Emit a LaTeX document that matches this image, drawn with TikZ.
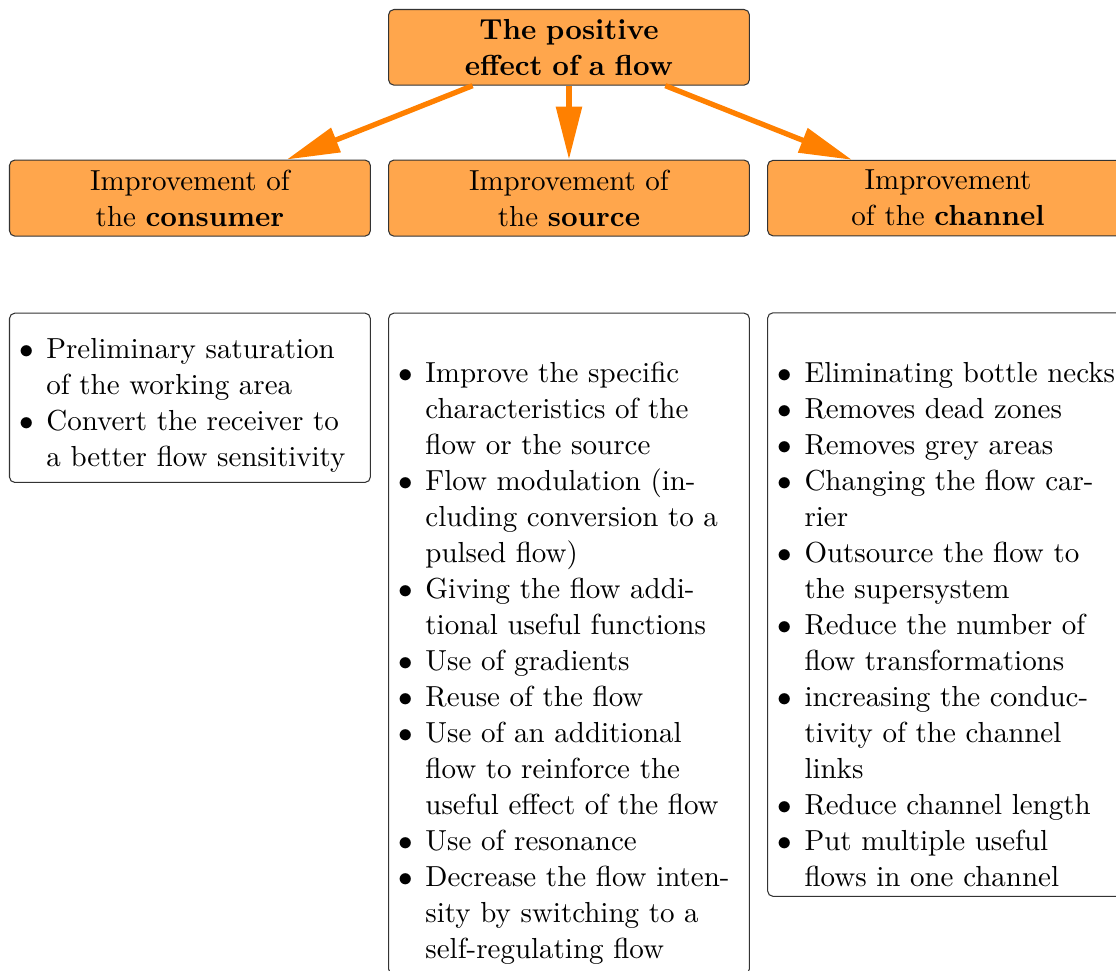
\documentclass[11pt,tikz,border=0pt]{standalone}
\usepackage{enumitem}
\usepackage{ragged2e}
\usepackage{xcolor}
\usepackage{tikz}
\usetikzlibrary{arrows.meta, positioning}

\setlist[itemize]{label=$\bullet$, leftmargin=*, labelsep=4.8pt, nosep}

\begin{document}
\begin{tikzpicture}[
    >={Triangle[length=20pt, width=9.5pt]},
    headbox/.style={rectangle, draw=black!80, fill=orange!70, rounded corners=2pt, text width=129pt, align=center},
    listbox/.style={rectangle, draw=black!80, fill=white, rounded corners=2pt, text width=129pt, execute at begin node=\RaggedRight},
    flow/.style={->, orange, line width=2pt}
  ]

  \node[headbox] (effect) at (0, 0) {\textbf{The positive\\ effect of a flow}};
  \node[headbox, below=27.9pt of effect] (source) {Improvement of\\ the \textbf{source}};
  \node[headbox, left=6.5pt of source] (consumer) {Improvement of\\ the \textbf{consumer}};
  \node[headbox, right=6.5pt of source] (channel) {Improvement\\ of the \textbf{channel}};

  \draw[flow] (effect) -- (consumer);
  \draw[flow] (effect) -- (source);
  \draw[flow] (effect) -- (channel);

  \node[listbox, below=28.7pt of consumer] (consumerlist) {
    \begin{itemize}
      \item Preliminary saturation of the working area
      \item Convert the receiver to a better flow sensitivity
    \end{itemize}};
  \node[listbox, below=28.7pt of source] (sourcelist) {\vspace*{9pt}
    \begin{itemize}
      \item Improve the specific characteristics of the flow or the source
      \item Flow modulation (including conversion to a pulsed flow)
      \item Giving the flow additional useful functions
      \item Use of gradients
      \item Reuse of the flow
      \item Use of an additional flow to reinforce the useful effect of the flow
      \item Use of resonance
      \item Decrease the flow intensity by switching to a self-regulating flow
    \end{itemize}};
  \node[listbox, below=28.7pt of channel] (channellist) {\vspace*{9pt}
    \begin{itemize}
      \item Eliminating bottle necks
      \item Removes dead zones
      \item Removes grey areas
      \item Changing the flow carrier
      \item Outsource the flow to the supersystem
      \item Reduce the number of flow transformations
      \item increasing the conductivity of the channel links
      \item Reduce channel length
      \item Put multiple useful flows in one channel
    \end{itemize}};

  % the page shows only part of the picture
  \pgfresetboundingbox
  \useasboundingbox ([shift={(-3.4pt,3.4pt)}]consumer.west |- effect.north) rectangle ++(421.6pt,-366.8pt);

\end{tikzpicture}
\end{document}
